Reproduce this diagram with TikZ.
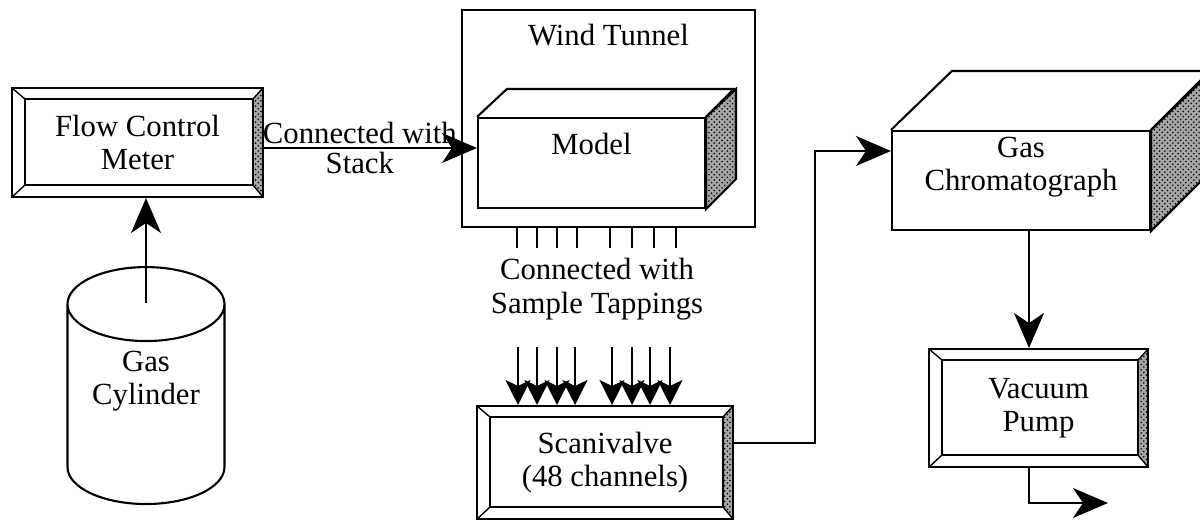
\documentclass[tikz,border=0pt]{standalone}
\usepackage{fontspec}
\setmainfont{Liberation Serif}
\usetikzlibrary{shapes.geometric, arrows.meta, positioning, calc, patterns}

\begin{document}
\begin{tikzpicture}[x=0.02cm, y=0.02cm, line width=1pt, font=\fontsize{17.5}{19}\selectfont]
    % Define styles
    \tikzset{
        texture/.style={preaction={fill=black!35}, pattern=crosshatch dots},
        panel/.style={rectangle, draw, line width=1.2pt, align=center, inner sep=0pt,
            path picture={
                \path (path picture bounding box.north west) coordinate (pnw)
                      (path picture bounding box.north east) coordinate (pne)
                      (path picture bounding box.south west) coordinate (psw)
                      (path picture bounding box.south east) coordinate (pse);
                \fill[texture] (pne) -- ($(pne)+(-10,-11)$) -- ($(pse)+(-10,12)$) -- (pse) -- cycle;
                \draw[line width=0.8pt] ($(pnw)+(13,-11)$) rectangle ($(pse)+(-10,12)$);
                \draw[line width=0.8pt] (pnw) -- ($(pnw)+(13,-11)$) (pne) -- ($(pne)+(-10,-11)$)
                    (psw) -- ($(psw)+(13,12)$) (pse) -- ($(pse)+(-10,12)$);
            }},
        block/.style={rectangle, draw, line width=1.2pt},
        tank/.style={cylinder, shape border rotate=90, aspect=0.62, draw, line width=1.2pt, align=center},
        pipe/.style={-{Stealth[length=0.7cm, width=0.6cm, inset=0.2cm]}},
        tap/.style={-{Stealth[length=0.5cm, width=0.5cm, inset=0.12cm]}}
    }
    \useasboundingbox (0,0) rectangle (1200,520);

    % Nodes
    \node[panel, minimum width=5.02cm, minimum height=2.18cm] (flowmeter) at (137.5,377.5) {Flow Control\\Meter};
    \node[tank, minimum width=3.14cm, minimum height=4.74cm, text depth=1.36cm,
        below=1.36cm of flowmeter, xshift=0.17cm] (gascyl) {Gas\\Cylinder};

    \node[block, minimum width=5.86cm, minimum height=4.34cm,
        label={[anchor=north, yshift=-0.16cm]north:Wind Tunnel}] (tunnel) at (608.5,401.5) {};
    \node[block, minimum width=4.54cm, minimum height=1.8cm,
        label={[anchor=north, yshift=-0.18cm]north:Model}] (model) at (591.5,357) {};
    \draw[line width=1.2pt] (model.north west) -- ++(30,28) -- ++(227,0) -- (model.north east);
    \draw[line width=1.2pt, texture] (model.north east) -- ++(30,28) -- ++(0,-90) -- (model.south east) -- cycle;

    \node[align=center] (tapnote) at (597,231) {Connected with\\Sample Tappings};
    \node[panel, minimum width=5.12cm, minimum height=2.26cm, below=3.54cm of tunnel, xshift=-0.07cm] (scani) {Scanivalve\\(48 channels)};

    \node[block, minimum width=5.16cm, minimum height=1.98cm,
        label={[anchor=north, align=center]north:Gas\\Chromatograph}] (gc) at (1021,339.5) {};
    \draw[line width=1.2pt] (gc.north west) -- ++(61,59) -- ++(258,0) -- (gc.north east);
    \draw[line width=1.2pt, texture] (gc.north east) -- ++(61,59) -- ++(0,-99) -- (gc.south east) -- cycle;

    \node[panel, minimum width=4.38cm, minimum height=2.36cm, below=2.34cm of gc, xshift=0.35cm] (pump) {Vacuum\\Pump};
    \coordinate (exhaust) at (1108,17);
    \coordinate (valve) at ($(gascyl.top)+(0,-37)$);

    % Arrows
    \draw[pipe] (valve) -- (valve |- flowmeter.south);
    \draw[pipe] (flowmeter.east |- 0,372) -- (model.west |- 0,372)
        node[pos=0.45, above, inner sep=2pt] {Connected with}
        node[pos=0.45, below, inner sep=2pt] {Stack};

    \foreach \x in {517,537,557,577,610,632,654,676}
        \draw (tunnel.south -| \x,0) -- ++(0,-20);
    \foreach \x in {518,537,557,575,612,632,650,670}
        \draw[tap] (\x,173) -- (scani.north -| \x,0);

    \draw[pipe] (scani.east |- 0,77) -| (815,369) -- (gc.west |- 0,369);
    \draw[pipe] (gc.south -| 1029,0) -- (pump.north -| 1029,0);
    \draw[pipe] (pump.south -| 1029,0) |- (exhaust);
\end{tikzpicture}
\end{document}
